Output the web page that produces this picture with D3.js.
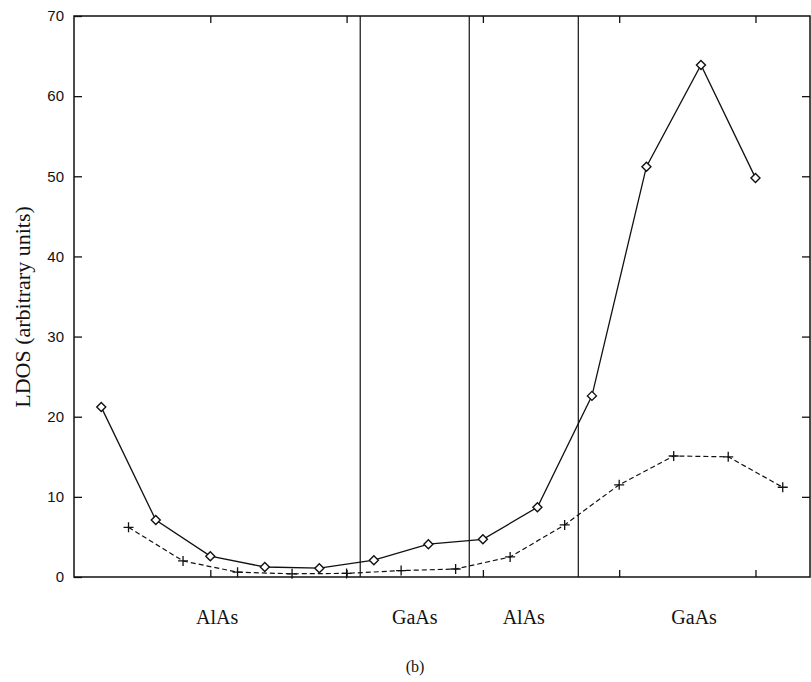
<!DOCTYPE html>
<html>
<head>
<meta charset="utf-8">
<script src="https://cdn.jsdelivr.net/npm/d3@7"></script>
<style>
  body { margin: 0; background: #fff; }
  .tick text { font-family: "Liberation Sans", Arial, sans-serif; font-size: 15px; fill: #111; }
  .serif { font-family: "Liberation Serif", "Times New Roman", serif; fill: #111; }
</style>
</head>
<body>
<svg id="chart" width="811" height="682"></svg>
<script>
// diamond series (solid line)
const solidX = [6, 8, 10, 12, 14, 16, 18, 20, 22, 24, 26, 28, 30];
const solidY = [21.2, 7.1, 2.6, 1.25, 1.1, 2.1, 4.1, 4.7, 8.7, 22.6, 51.2, 63.9, 49.8];

// cross series (dashed line)
const dashX = [7, 9, 11, 13, 15, 17, 19, 21, 23, 25, 27, 29, 31];
const dashY = [6.2, 2.0, 0.6, 0.4, 0.45, 0.8, 1.0, 2.5, 6.5, 11.5, 15.1, 15.0, 11.2];

// layer boundaries and labels
const boundaries = [15.5, 19.5, 23.5];
const layerNames = ["AlAs", "GaAs", "AlAs", "GaAs"];
const layerEdges = [5, 15.5, 19.5, 23.5, 32];

const yTicks = [0, 10, 20, 30, 40, 50, 60, 70];
const xTicks = [10, 15, 20, 25, 30];

const margin = {top: 16, left: 74, right: 1, bottom: 105};
const width = 811, height = 682;

const svg = d3.select("#chart");

const x = d3.scaleLinear().domain([5, 32]).range([margin.left, width - margin.right]);
const y = d3.scaleLinear().domain([0, 70]).range([height - margin.bottom, margin.top]);

const ink = "#111";

// frame
svg.append("rect")
  .attr("x", x(5)).attr("y", y(70))
  .attr("width", x(32) - x(5)).attr("height", y(0) - y(70))
  .attr("fill", "none").attr("stroke", ink).attr("stroke-width", 1.5);

const styleAxis = (g) => {
  g.select(".domain").remove();
  g.selectAll(".tick line").attr("stroke", ink).attr("stroke-width", 1.3);
};

svg.append("g")
  .attr("transform", `translate(${x(5)},0)`)
  .call(d3.axisLeft(y).tickValues(yTicks).tickSize(-8).tickPadding(10))
  .call(styleAxis);

svg.append("g")
  .attr("transform", `translate(${x(32)},0)`)
  .call(d3.axisRight(y).tickValues(yTicks.slice(1, -1)).tickSize(-8).tickFormat(""))
  .call(styleAxis);

svg.append("g")
  .attr("transform", `translate(0,${y(0)})`)
  .call(d3.axisBottom(x).tickValues(xTicks).tickSize(-7).tickFormat(""))
  .call(styleAxis);

svg.append("g")
  .attr("transform", `translate(0,${y(70)})`)
  .call(d3.axisTop(x).tickValues(xTicks).tickSize(-7).tickFormat(""))
  .call(styleAxis);

// layer boundaries
svg.selectAll("line.boundary")
  .data(boundaries)
  .enter()
  .append("line")
  .attr("class", "boundary")
  .attr("x1", (d) => x(d)).attr("x2", (d) => x(d))
  .attr("y1", y(70)).attr("y2", y(0))
  .attr("stroke", ink).attr("stroke-width", 1.2);

const solid = solidX.map((d, i) => ({x: d, y: solidY[i]}));
const dashed = dashX.map((d, i) => ({x: d, y: dashY[i]}));

const line = d3.line().x((d) => x(d.x)).y((d) => y(d.y));

svg.append("path").datum(solid)
  .attr("d", line)
  .attr("fill", "none").attr("stroke", ink).attr("stroke-width", 1.3);

svg.append("path").datum(dashed)
  .attr("d", line)
  .attr("fill", "none").attr("stroke", ink).attr("stroke-width", 1.2)
  .attr("stroke-dasharray", "5,3");

// diamond markers
svg.selectAll("path.diamond")
  .data(solid)
  .enter()
  .append("path")
  .attr("class", "diamond")
  .attr("transform", (d) => `translate(${x(d.x)},${y(d.y)})`)
  .attr("d", "M0,-4.5L4.5,0L0,4.5L-4.5,0Z")
  .attr("fill", "#fff").attr("stroke", ink).attr("stroke-width", 1.4);

// cross markers
svg.selectAll("path.cross")
  .data(dashed)
  .enter()
  .append("path")
  .attr("class", "cross")
  .attr("transform", (d) => `translate(${x(d.x)},${y(d.y)})`)
  .attr("d", "M-5,0H5M0,-5V5")
  .attr("fill", "none").attr("stroke", ink).attr("stroke-width", 1.3);

// layer labels
svg.selectAll("text.layer")
  .data(layerNames)
  .enter()
  .append("text")
  .attr("class", "layer serif")
  .attr("x", (d, i) => x((layerEdges[i] + layerEdges[i + 1]) / 2))
  .attr("y", 624)
  .attr("text-anchor", "middle")
  .attr("font-size", 20)
  .text((d) => d);

svg.append("text")
  .attr("class", "serif")
  .attr("transform", `translate(30,307) rotate(-90)`)
  .attr("text-anchor", "middle")
  .attr("font-size", 22)
  .text("LDOS (arbitrary units)");

svg.append("text")
  .attr("class", "serif")
  .attr("x", 415).attr("y", 672)
  .attr("text-anchor", "middle")
  .attr("font-size", 16)
  .text("(b)");
</script>
</body>
</html>
